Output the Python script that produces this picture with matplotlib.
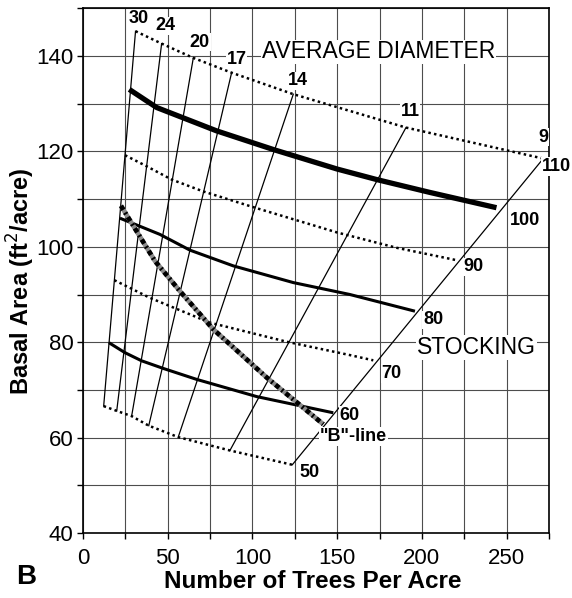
import matplotlib
matplotlib.use("Agg")
import matplotlib.pyplot as plt

plt.rcParams["font.family"] = ["Liberation Sans", "DejaVu Sans"]

# average diameter lines: end points on the 50 and 110 stocking lines
DIAMETERS = ["30", "24", "20", "17", "14", "11", "9"]
DIAM_LOW_N = [12.2, 19.9, 28.7, 38.8, 56.2, 86.7, 123.5]
DIAM_LOW_BA = [66.6, 65.6, 64.5, 62.5, 60.1, 57.3, 54.3]
DIAM_HIGH_N = [31.0, 46.4, 65.1, 87.7, 124.1, 190.6, 271.6]
DIAM_HIGH_BA = [145.2, 142.6, 139.6, 136.5, 132.0, 125.0, 118.5]

# stocking curves
S100_N = [27.3, 43.5, 78.9, 112.3, 150.0, 173.3, 204.7, 244.0]
S100_BA = [133.0, 129.2, 124.3, 120.4, 116.3, 114.1, 111.4, 108.2]
S90_N = [24.8, 37.5, 52.3, 71.0, 101.5, 150.0, 185.0, 220.4]
S90_BA = [119.2, 116.9, 114.1, 111.6, 108.2, 103.0, 99.8, 97.2]
S80_N = [21.8, 45.4, 63.1, 88.7, 124.1, 157.5, 195.9]
S80_BA = [106.0, 102.6, 99.3, 96.0, 92.5, 90.0, 86.5]
S70_N = [18.5, 39.5, 74.9, 120.2, 157.5, 171.3]
S70_BA = [93.0, 89.3, 84.1, 80.1, 77.3, 76.2]
S60_N = [15.3, 24.8, 34.6, 47.4, 67.1, 102.5, 147.7]
S60_BA = [79.9, 77.8, 76.1, 74.5, 72.2, 68.6, 65.2]
BLINE_N = [22.4, 42.5, 57.2, 76.9, 108.4, 141.8]
BLINE_BA = [108.6, 97.0, 90.7, 82.7, 72.6, 62.8]

STOCK_LABELS = ["110", "100", "90", "80", "70", "60", "50"]

fig = plt.figure(figsize=(5.72, 5.98), dpi=100)
ax = fig.add_axes([0.1451, 0.1087, 0.8147, 0.8774])

ax.set_xlim(0, 275)
ax.set_ylim(40, 150)
ax.set_xticks(range(0, 251, 50))
ax.set_xticks(range(25, 276, 50), minor=True)
ax.set_yticks(range(40, 141, 20))
ax.set_yticks(range(50, 151, 20), minor=True)
ax.grid(True, which="both", color="0.3", linewidth=0.8)
ax.set_axisbelow(True)
ax.tick_params(which="both", direction="out", length=4, width=1, color="black")
ax.tick_params(axis="both", labelsize=16)
ax.tick_params(axis="x", pad=7)
ax.tick_params(axis="y", pad=3)
for sp in ax.spines.values():
    sp.set_linewidth(1.2)

thin = dict(color="black", linewidth=0.9, zorder=3)
dotted = dict(color="black", linewidth=1.8, linestyle=(0, (1, 1.3)), zorder=3)

# diameter lines
for i in range(len(DIAMETERS)):
    ax.plot([DIAM_LOW_N[i], DIAM_HIGH_N[i]], [DIAM_LOW_BA[i], DIAM_HIGH_BA[i]], **thin)

# stocking curves
ax.plot(DIAM_HIGH_N, DIAM_HIGH_BA, **dotted)
ax.plot(S100_N, S100_BA, color="black", linewidth=3.8, solid_capstyle="butt", zorder=4)
ax.plot(S90_N, S90_BA, **dotted)
ax.plot(S80_N, S80_BA, color="black", linewidth=2.2, solid_capstyle="butt", zorder=4)
ax.plot(S70_N, S70_BA, **dotted)
ax.plot(S60_N, S60_BA, color="black", linewidth=2.2, solid_capstyle="butt", zorder=4)
ax.plot(DIAM_LOW_N, DIAM_LOW_BA, **dotted)

# "B"-line
ax.plot(BLINE_N, BLINE_BA, color="0.55", linewidth=3.4, solid_capstyle="butt", zorder=4)
ax.plot(BLINE_N, BLINE_BA, color="black", linewidth=3.4,
        linestyle=(0, (1.0, 0.7, 0.4, 0.7)), zorder=4)

box = dict(facecolor="white", edgecolor="none", pad=0.5)

diam_pos = [(32.6, 147.8), (48.4, 146.3), (69.0, 142.9), (90.7, 139.3),
            (127.0, 134.8), (192.9, 128.3), (271.6, 123.0)]
for lab, (x, y) in zip(DIAMETERS, diam_pos):
    ax.text(x, y, lab, fontsize=13, fontweight="bold", ha="center", va="center",
            bbox=box, zorder=6)

stock_pos = [(279.5, 116.8), (260.8, 105.6), (230.7, 95.8), (206.7, 84.7),
             (182.1, 73.4), (157.5, 64.6), (133.9, 52.6)]
for lab, (x, y) in zip(STOCK_LABELS, stock_pos):
    ax.text(x, y, lab, fontsize=13, fontweight="bold", ha="center", va="center",
            bbox=box, zorder=6, clip_on=False)

ax.text(159.5, 60.2, '"B"-line', fontsize=13, fontweight="bold", ha="center", va="center",
        bbox=box, zorder=6)
ax.text(174.3, 140.9, "AVERAGE DIAMETER", fontsize=16.5, ha="center", va="center",
        bbox=box, zorder=6)
ax.text(232.3, 78.9, "STOCKING", fontsize=16.5, ha="center", va="center",
        bbox=box, zorder=6)

fig.text(313 / 572, 1 - 581 / 598, "Number of Trees Per Acre", fontsize=17.5,
         fontweight="bold", ha="center", va="center")
fig.text(21 / 572, 1 - 281 / 598, "Basal Area (ft$^{2}$/acre)", fontsize=17,
         fontweight="bold", ha="center", va="center", rotation=90)
fig.text(26 / 572, 1 - 577 / 598, "B", fontsize=20, fontweight="bold",
         ha="center", va="center")

fig.savefig("out.png", dpi=100)
